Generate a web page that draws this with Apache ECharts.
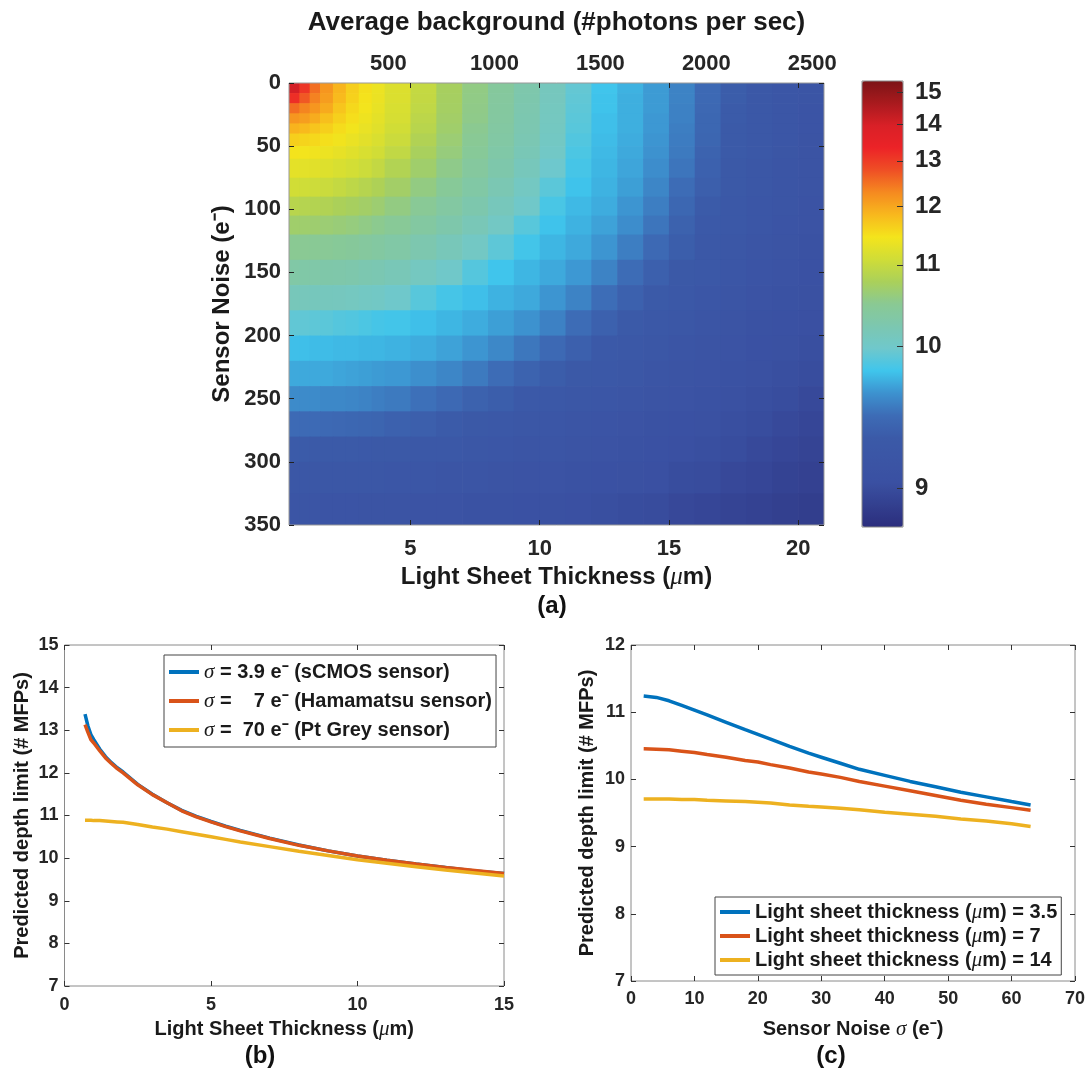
<!DOCTYPE html>
<html><head><meta charset="utf-8">
<script src="https://cdn.jsdelivr.net/npm/echarts@6/dist/echarts.min.js"></script>
<style>html,body{margin:0;padding:0;background:#fff}#c{width:1086px;height:1077px}</style>
</head><body><div id="c"></div>
<script>
// ---------- Panel (a): heatmap ----------
const thicknessEdges = [0.3,0.7,1.1,1.5,2.0,2.5,3.0,3.5,4.0,5,6,7,8,9,10,11,12,13,14,15,16,17,18,19,20,21];
const noiseEdges = [0,8,16,24,32,40,50,60,75,90,105,120,140,160,180,200,220,240,260,280,300,325,350];
const depthGrid = [
 [14.03,13.09,12.53,12.17,11.87,11.66,11.51,11.39,11.22,10.98,10.77,10.59,10.43,10.28,10.12,9.95,9.83,9.77,9.70,9.61,9.49,9.38,9.30,9.24,9.19],
 [13.20,12.72,12.36,12.09,11.83,11.63,11.49,11.37,11.21,10.97,10.76,10.58,10.42,10.27,10.11,9.94,9.82,9.76,9.70,9.61,9.49,9.38,9.30,9.24,9.19],
 [12.54,12.34,12.17,11.96,11.74,11.57,11.46,11.34,11.18,10.95,10.75,10.57,10.41,10.26,10.10,9.93,9.82,9.76,9.70,9.60,9.48,9.37,9.30,9.24,9.18],
 [12.17,12.08,11.95,11.79,11.64,11.52,11.41,11.30,11.15,10.92,10.73,10.56,10.40,10.25,10.09,9.92,9.81,9.76,9.69,9.60,9.47,9.37,9.30,9.24,9.18],
 [11.89,11.83,11.74,11.65,11.54,11.45,11.35,11.26,11.10,10.89,10.71,10.53,10.38,10.24,10.08,9.91,9.81,9.76,9.69,9.59,9.47,9.36,9.29,9.23,9.18],
 [11.65,11.61,11.57,11.51,11.44,11.36,11.28,11.19,11.04,10.84,10.67,10.50,10.36,10.22,10.06,9.89,9.80,9.75,9.68,9.58,9.46,9.36,9.29,9.23,9.17],
 [11.48,11.46,11.43,11.39,11.33,11.26,11.18,11.10,10.96,10.78,10.63,10.47,10.33,10.19,10.03,9.87,9.79,9.74,9.67,9.57,9.44,9.35,9.28,9.22,9.17],
 [11.30,11.29,11.27,11.23,11.18,11.12,11.05,10.97,10.85,10.71,10.56,10.42,10.29,10.14,9.98,9.85,9.78,9.73,9.65,9.55,9.42,9.33,9.27,9.21,9.16],
 [11.10,11.08,11.06,11.03,10.98,10.93,10.88,10.82,10.73,10.60,10.47,10.35,10.22,10.07,9.92,9.82,9.77,9.71,9.62,9.51,9.40,9.32,9.26,9.20,9.16],
 [10.89,10.87,10.86,10.84,10.80,10.77,10.73,10.68,10.60,10.49,10.38,10.27,10.14,10.00,9.86,9.79,9.75,9.68,9.59,9.47,9.37,9.30,9.24,9.19,9.14],
 [10.71,10.70,10.69,10.67,10.65,10.62,10.58,10.54,10.48,10.39,10.29,10.18,10.05,9.91,9.82,9.77,9.72,9.65,9.55,9.43,9.34,9.28,9.23,9.18,9.13],
 [10.52,10.51,10.50,10.49,10.47,10.45,10.42,10.39,10.34,10.26,10.16,10.05,9.93,9.84,9.78,9.74,9.68,9.59,9.49,9.39,9.31,9.26,9.20,9.16,9.11],
 [10.34,10.33,10.32,10.31,10.30,10.28,10.25,10.23,10.18,10.09,10.00,9.90,9.83,9.78,9.74,9.69,9.61,9.51,9.41,9.33,9.28,9.23,9.18,9.13,9.09],
 [10.15,10.14,10.13,10.12,10.11,10.09,10.06,10.04,9.99,9.91,9.85,9.81,9.77,9.74,9.68,9.61,9.52,9.42,9.35,9.29,9.24,9.19,9.15,9.11,9.07],
 [9.94,9.94,9.93,9.92,9.90,9.89,9.87,9.85,9.84,9.81,9.78,9.75,9.71,9.67,9.60,9.51,9.42,9.35,9.30,9.25,9.20,9.16,9.12,9.08,9.05],
 [9.81,9.81,9.80,9.80,9.79,9.79,9.78,9.78,9.77,9.75,9.72,9.68,9.63,9.56,9.49,9.41,9.34,9.30,9.25,9.21,9.17,9.13,9.09,9.06,9.03],
 [9.74,9.74,9.74,9.74,9.73,9.72,9.71,9.70,9.69,9.66,9.62,9.57,9.51,9.44,9.38,9.33,9.29,9.25,9.20,9.17,9.13,9.10,9.06,9.03,9.01],
 [9.64,9.64,9.64,9.63,9.63,9.62,9.61,9.59,9.57,9.53,9.49,9.43,9.39,9.34,9.30,9.27,9.23,9.20,9.16,9.13,9.10,9.06,9.03,9.01,8.98],
 [9.50,9.50,9.50,9.49,9.48,9.47,9.46,9.45,9.42,9.40,9.37,9.33,9.30,9.27,9.24,9.21,9.18,9.15,9.12,9.09,9.06,9.03,9.01,8.98,8.95],
 [9.37,9.37,9.36,9.36,9.35,9.35,9.34,9.33,9.32,9.30,9.28,9.26,9.24,9.21,9.19,9.16,9.13,9.10,9.08,9.05,9.03,9.01,8.98,8.95,8.93],
 [9.27,9.27,9.27,9.27,9.26,9.26,9.26,9.25,9.24,9.23,9.21,9.19,9.17,9.15,9.13,9.10,9.08,9.06,9.04,9.01,9.00,8.97,8.95,8.92,8.90],
 [9.19,9.19,9.19,9.18,9.18,9.18,9.17,9.17,9.16,9.15,9.14,9.12,9.10,9.09,9.07,9.05,9.03,9.01,9.00,8.97,8.95,8.93,8.91,8.89,8.87]
];
const thicknessTicksA = [5,10,15,20];
const backgroundTicks = [500,1000,1500,2000,2500];
const colorbarTicks = [9,10,11,12,13,14,15];
// colour-scale position (0 = bottom, 1 = top of colour bar) of each colour-bar tick
const colorbarTickFrac = [0.086,0.405,0.588,0.720,0.821,0.903,0.975];

// ---------- Panel (b) ----------
const thicknessB = [0.7,0.8,0.9,1.0,1.2,1.4,1.6,1.8,2.0,2.5,3,3.5,4,4.5,5,5.5,6,7,8,9,10,11,12,13,14,15];
const depthSigma39 = [13.38,13.10,12.90,12.78,12.56,12.38,12.24,12.12,12.02,11.73,11.50,11.30,11.12,10.98,10.86,10.75,10.65,10.47,10.31,10.17,10.05,9.95,9.86,9.78,9.70,9.64];
const depthSigma7  = [13.13,12.95,12.78,12.70,12.52,12.35,12.22,12.10,12.00,11.72,11.49,11.30,11.11,10.97,10.85,10.74,10.64,10.46,10.30,10.17,10.05,9.95,9.86,9.78,9.71,9.64];
const depthSigma70 = [10.89,10.89,10.89,10.88,10.88,10.87,10.86,10.85,10.84,10.79,10.73,10.68,10.62,10.56,10.50,10.44,10.38,10.27,10.16,10.06,9.96,9.88,9.80,9.72,9.65,9.58];
const namesB = ['σ = 3.9 e⁻ (sCMOS sensor)','σ =    7 e⁻ (Hamamatsu sensor)','σ =  70 e⁻ (Pt Grey sensor)'];

// ---------- Panel (c) ----------
const noiseC = [2,4,6,8,10,12,15,18,20,22,25,28,30,33,36,40,44,48,52,56,60,63];
const depthT35 = [11.24,11.22,11.17,11.10,11.03,10.96,10.85,10.74,10.67,10.60,10.49,10.39,10.33,10.24,10.15,10.06,9.97,9.89,9.81,9.74,9.67,9.62];
const depthT7  = [10.455,10.45,10.44,10.42,10.40,10.37,10.33,10.28,10.26,10.22,10.17,10.11,10.08,10.03,9.97,9.90,9.83,9.76,9.69,9.63,9.58,9.54];
const depthT14 = [9.71,9.71,9.71,9.70,9.70,9.69,9.68,9.67,9.66,9.65,9.62,9.60,9.59,9.57,9.55,9.51,9.48,9.45,9.41,9.38,9.34,9.30];
const namesC = ['Light sheet thickness (μm) = 3.5','Light sheet thickness (μm) = 7','Light sheet thickness (μm) = 14'];

// ---------- styles ----------
const jetColors = ['#2b2d7d','#33408f','#3a50a2','#3b55a5','#3b5aa8','#3d6cb6','#3d92cf','#3fc5ec','#6fc8cc','#7cc7b0','#8ac993','#aad05a','#d0dd37','#f4e41c','#f8b81d','#f58a20','#ef4f25','#ec2327','#d92027','#a91a1e','#7c1416'];
const lineColors = ['#0072BD','#D95319','#EDB120'];
const FONT = "'Liberation Sans', Arial, Helvetica, sans-serif";
const TXT = '#262626';

function toFrac(v){
  const t = colorbarTicks, f = colorbarTickFrac;
  let k = 0;
  if (v >= t[t.length-1]) k = t.length-2;
  else if (v > t[0]) { while (v > t[k+1]) k++; }
  const r = f[k] + (v - t[k]) * (f[k+1]-f[k]) / (t[k+1]-t[k]);
  return Math.max(0, Math.min(1, r));
}

const cells = [];
for (let j = 0; j < noiseEdges.length-1; j++) {
  for (let i = 0; i < thicknessEdges.length-1; i++) {
    const v = depthGrid[j][i];
    cells.push([thicknessEdges[i], thicknessEdges[i+1], noiseEdges[j], noiseEdges[j+1], v, toFrac(v)]);
  }
}
const pairs = (xs, ys) => xs.map((x, i) => [x, ys[i]]);

const greek = {fontStyle:'italic', fontWeight:'normal', fontFamily:"'Liberation Serif','DejaVu Serif',serif"};
function ticks(extra){ return Object.assign({show:true, inside:true, length:5, lineStyle:{color:'#333', width:1}}, extra || {}); }
const noLine = {show:false, onZero:false};

function lineAxisCommon(extra){
  return Object.assign({
    type:'value', axisLine:noLine, splitLine:{show:false},
    axisTick:ticks(), nameMoveOverlap:false,
    axisLabel:{color:TXT, fontSize:18, fontWeight:'bold', fontFamily:FONT},
    nameTextStyle:{color:'#1a1a1a', fontSize:20, fontWeight:'bold', fontFamily:FONT, rich:{g:Object.assign({fontSize:21}, greek)}}
  }, extra);
}

const option = {
  animation:false,
  backgroundColor:'#fff',
  textStyle:{fontFamily:FONT},
  title:[
    {text:'(a)', left:552, top:594, textAlign:'center', padding:0, textStyle:{fontSize:24, fontWeight:'bold', color:'#111', fontFamily:FONT}},
    {text:'(b)', left:260, top:1044, textAlign:'center', padding:0, textStyle:{fontSize:24, fontWeight:'bold', color:'#111', fontFamily:FONT}},
    {text:'(c)', left:831, top:1044, textAlign:'center', padding:0, textStyle:{fontSize:24, fontWeight:'bold', color:'#111', fontFamily:FONT}}
  ],
  grid:[
    {left:289, top:83, width:535, height:442, show:true, borderColor:'#999', borderWidth:1, backgroundColor:'transparent', z:5, outerBoundsMode:'none', containLabel:false},
    {left:862, top:81, width:41, height:446, show:true, borderColor:'#888', borderWidth:1, backgroundColor:'transparent', z:6, outerBoundsMode:'none', containLabel:false},
    {left:64.5, top:645, width:439.5, height:341, show:true, borderColor:'#8a8a8a', borderWidth:1, backgroundColor:'transparent', outerBoundsMode:'none', containLabel:false},
    {left:631, top:645, width:444, height:336, show:true, borderColor:'#8a8a8a', borderWidth:1, backgroundColor:'transparent', outerBoundsMode:'none', containLabel:false}
  ],
  xAxis:[
    {gridIndex:0, type:'value', position:'bottom', min:0.3, max:21, z:10, axisLine:noLine, splitLine:{show:false}, nameMoveOverlap:false,
     axisTick:ticks({customValues:thicknessTicksA, lineStyle:{color:'#222'}}),
     axisLabel:{customValues:thicknessTicksA, color:TXT, fontSize:22, fontWeight:'bold', fontFamily:FONT, margin:13},
     name:'Light Sheet Thickness ({g|μ}m)', nameLocation:'middle', nameGap:40,
     nameTextStyle:{color:'#1a1a1a', fontSize:24, fontWeight:'bold', fontFamily:FONT, rich:{g:Object.assign({fontSize:25}, greek)}}},
    {gridIndex:0, type:'value', position:'top', min:0.3, max:21, z:10, axisLine:noLine, splitLine:{show:false},
     axisTick:ticks({customValues:thicknessTicksA, lineStyle:{color:'#222'}}), axisLabel:{show:false}},
    {gridIndex:0, type:'value', position:'top', min:31, max:2555, z:10, axisLine:noLine, splitLine:{show:false}, axisTick:{show:false}, nameMoveOverlap:false,
     axisLabel:{customValues:backgroundTicks, formatter:(v)=>String(v), color:TXT, fontSize:22, fontWeight:'bold', fontFamily:FONT, margin:8},
     name:'Average background (#photons per sec)', nameLocation:'middle', nameGap:47,
     nameTextStyle:{color:'#1a1a1a', fontSize:26, fontWeight:'bold', fontFamily:FONT}},
    {gridIndex:1, type:'value', min:0, max:1, show:false, axisLine:noLine},
    lineAxisCommon({gridIndex:2, position:'bottom', min:0, max:15, interval:5, axisLabel:{color:TXT, fontSize:18, fontWeight:'bold', fontFamily:FONT, margin:10},
      name:'Light Sheet Thickness ({g|μ}m)', nameLocation:'middle', nameGap:33}),
    lineAxisCommon({gridIndex:2, position:'top', min:0, max:15, interval:5, axisLabel:{show:false}}),
    lineAxisCommon({gridIndex:3, position:'bottom', min:0, max:70, interval:10, axisLabel:{color:TXT, fontSize:18, fontWeight:'bold', fontFamily:FONT, margin:9},
      name:'Sensor Noise {g|σ} (e⁻)', nameLocation:'middle', nameGap:38}),
    lineAxisCommon({gridIndex:3, position:'top', min:0, max:70, interval:10, axisLabel:{show:false}})
  ],
  yAxis:[
    {gridIndex:0, type:'value', position:'left', inverse:true, min:0, max:350, interval:50, z:10, axisLine:noLine, splitLine:{show:false}, nameMoveOverlap:false,
     axisTick:ticks({lineStyle:{color:'#222'}}),
     axisLabel:{color:TXT, fontSize:22, fontWeight:'bold', fontFamily:FONT, margin:8},
     name:'Sensor Noise (e⁻)', nameLocation:'middle', nameGap:55, nameRotate:90,
     nameTextStyle:{color:'#1a1a1a', fontSize:24, fontWeight:'bold', fontFamily:FONT}},
    {gridIndex:0, type:'value', position:'right', inverse:true, min:0, max:350, interval:50, z:10, axisLine:noLine, splitLine:{show:false},
     axisTick:ticks({lineStyle:{color:'#222'}}), axisLabel:{show:false}},
    {gridIndex:1, type:'value', position:'right', min:0, max:1, z:10, axisLine:noLine, splitLine:{show:false},
     axisTick:ticks({customValues:colorbarTickFrac, length:6, lineStyle:{color:'#333'}}),
     axisLabel:{customValues:colorbarTickFrac, color:TXT, fontSize:24, fontWeight:'bold', fontFamily:FONT, margin:12,
       formatter:(v)=>{ let best=0; colorbarTickFrac.forEach((f,i)=>{ if (Math.abs(f-v) < Math.abs(colorbarTickFrac[best]-v)) best=i; }); return String(colorbarTicks[best]); }}},
    lineAxisCommon({gridIndex:2, position:'left', min:7, max:15, interval:1, axisLabel:{color:TXT, fontSize:18, fontWeight:'bold', fontFamily:FONT, margin:6},
      name:'Predicted depth limit (# MFPs)', nameLocation:'middle', nameGap:32, nameRotate:90}),
    lineAxisCommon({gridIndex:2, position:'right', min:7, max:15, interval:1, axisLabel:{show:false}}),
    lineAxisCommon({gridIndex:3, position:'left', min:7, max:12, interval:1, axisLabel:{color:TXT, fontSize:18, fontWeight:'bold', fontFamily:FONT, margin:6},
      name:'Predicted depth limit (# MFPs)', nameLocation:'middle', nameGap:34, nameRotate:90}),
    lineAxisCommon({gridIndex:3, position:'right', min:7, max:12, interval:1, axisLabel:{show:false}})
  ],
  visualMap:[{
    type:'continuous', seriesIndex:0, dimension:5, min:0, max:1,
    inRange:{color:jetColors}, calculable:false, hoverLink:false, realtime:false,
    orient:'vertical', left:862, top:81, itemWidth:41, itemHeight:446, padding:0, text:null, showLabel:false
  }],
  legend:[
    {data:namesB, left:164, top:655, orient:'vertical', padding:[6,4,6,5], itemGap:7, itemWidth:30, itemHeight:4, icon:'rect',
     borderColor:'#444', borderWidth:1, backgroundColor:'#fff', selectedMode:false,
     formatter:(n)=>n.replace('σ','{g|σ}'),
     textStyle:{color:'#1a1a1a', fontSize:20, fontWeight:'bold', fontFamily:FONT, lineHeight:22, rich:{g:Object.assign({fontSize:21, lineHeight:22}, greek)}}},
    {data:namesC, left:715, top:897, orient:'vertical', padding:[4,4,4,5], itemGap:2, itemWidth:30, itemHeight:4, icon:'rect',
     borderColor:'#444', borderWidth:1, backgroundColor:'#fff', selectedMode:false,
     formatter:(n)=>n.replace('μ','{g|μ}'),
     textStyle:{color:'#1a1a1a', fontSize:20, fontWeight:'bold', fontFamily:FONT, lineHeight:22, rich:{g:Object.assign({fontSize:21, lineHeight:22}, greek)}}}
  ],
  series:[
    {type:'custom', name:'depth map', xAxisIndex:0, yAxisIndex:0, data:cells, encode:{x:[0,1], y:[2,3]}, clip:true, silent:true,
     renderItem:(params, api)=>{
       const p0 = api.coord([api.value(0), api.value(2)]);
       const p1 = api.coord([api.value(1), api.value(3)]);
       return {type:'rect', shape:{x:Math.min(p0[0],p1[0]), y:Math.min(p0[1],p1[1]), width:Math.abs(p1[0]-p0[0])+0.7, height:Math.abs(p1[1]-p0[1])+0.7},
               style:{fill:api.visual('color')}};
     }},
    {type:'line', name:namesB[0], xAxisIndex:4, yAxisIndex:3, data:pairs(thicknessB, depthSigma39), showSymbol:false, symbol:'none', lineStyle:{width:3.5, color:lineColors[0]}, itemStyle:{color:lineColors[0]}},
    {type:'line', name:namesB[1], xAxisIndex:4, yAxisIndex:3, data:pairs(thicknessB, depthSigma7), showSymbol:false, symbol:'none', lineStyle:{width:3.5, color:lineColors[1]}, itemStyle:{color:lineColors[1]}},
    {type:'line', name:namesB[2], xAxisIndex:4, yAxisIndex:3, data:pairs(thicknessB, depthSigma70), showSymbol:false, symbol:'none', lineStyle:{width:3.5, color:lineColors[2]}, itemStyle:{color:lineColors[2]}},
    {type:'line', name:namesC[0], xAxisIndex:6, yAxisIndex:5, data:pairs(noiseC, depthT35), showSymbol:false, symbol:'none', lineStyle:{width:3.5, color:lineColors[0]}, itemStyle:{color:lineColors[0]}},
    {type:'line', name:namesC[1], xAxisIndex:6, yAxisIndex:5, data:pairs(noiseC, depthT7), showSymbol:false, symbol:'none', lineStyle:{width:3.5, color:lineColors[1]}, itemStyle:{color:lineColors[1]}},
    {type:'line', name:namesC[2], xAxisIndex:6, yAxisIndex:5, data:pairs(noiseC, depthT14), showSymbol:false, symbol:'none', lineStyle:{width:3.5, color:lineColors[2]}, itemStyle:{color:lineColors[2]}}
  ]
};
const chart = echarts.init(document.getElementById('c'), null, {renderer:'canvas'});
chart.setOption(option);
</script>
</body></html>
